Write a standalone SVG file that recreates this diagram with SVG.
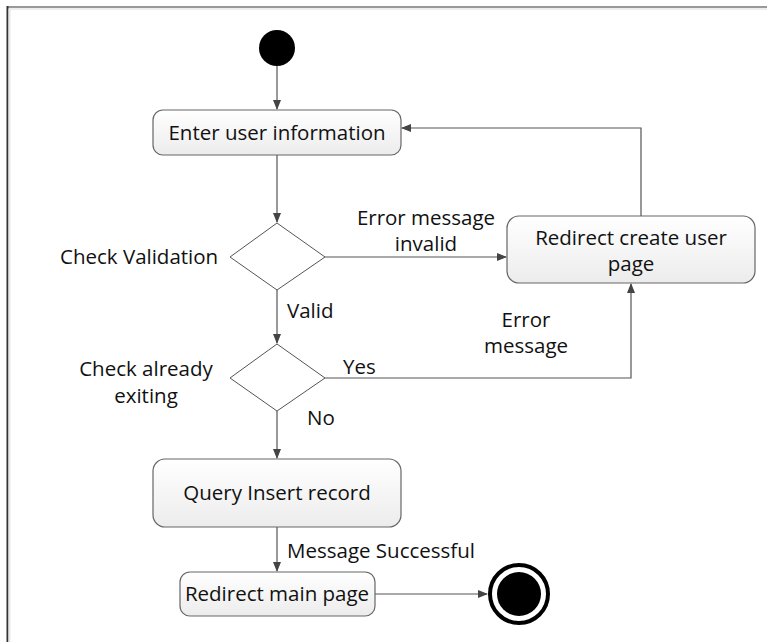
<svg xmlns="http://www.w3.org/2000/svg" width="767" height="642" viewBox="0 0 767 642">
<defs>
<linearGradient id="g" x1="0" y1="0" x2="0" y2="1"><stop offset="0" stop-color="#ffffff"/><stop offset="1" stop-color="#ececec"/></linearGradient>
<marker id="a" markerWidth="10" markerHeight="8" refX="9" refY="4" orient="auto" markerUnits="userSpaceOnUse"><path d="M0,0 L10,4 L0,8 Z" fill="#444"/></marker>
</defs>
<style>
.box{fill:url(#g);stroke:#666;stroke-width:1.2}
.dia{fill:#fff;stroke:#555;stroke-width:1}
.c{fill:none;stroke:#555;stroke-width:1.2}
text{font-family:"Open Sans","Noto Sans",sans-serif;font-size:20.5px;fill:#111}
.m{text-anchor:middle}
</style>
<rect x="0" y="0" width="767" height="642" fill="#fff"/>
<line x1="7" y1="7" x2="767" y2="7" stroke="#999" stroke-width="2"/>
<line x1="7.5" y1="6" x2="7.5" y2="642" stroke="#333" stroke-width="2"/>
<line x1="9" y1="9" x2="767" y2="9" stroke="#eee" stroke-width="2"/>
<line x1="9.5" y1="9" x2="9.5" y2="642" stroke="#e8e8e8" stroke-width="2"/>
<g id="connectors">
<line class="c" x1="277" y1="66" x2="277" y2="109" marker-end="url(#a)"/>
<line class="c" x1="277" y1="155" x2="277" y2="222" marker-end="url(#a)"/>
<line class="c" x1="325" y1="257" x2="506" y2="257" marker-end="url(#a)"/>
<polyline class="c" points="641,216 641,128 402,128" marker-end="url(#a)"/>
<line class="c" x1="277" y1="290" x2="277" y2="343" marker-end="url(#a)"/>
<polyline class="c" points="325,378 631,378 631,284" marker-end="url(#a)"/>
<line class="c" x1="277" y1="411" x2="277" y2="458" marker-end="url(#a)"/>
<line class="c" x1="277" y1="527" x2="277" y2="571" marker-end="url(#a)"/>
<line class="c" x1="375" y1="594" x2="487" y2="594" marker-end="url(#a)"/>
</g>
<g id="start"><circle cx="277" cy="48" r="18" fill="#000"/></g>
<g id="enter"><rect class="box" x="153" y="110" width="248" height="45" rx="10"/><text class="m" x="277" y="140">Enter user information</text></g>
<g id="checkValidation"><polygon class="dia" points="277,223 325,257 277,290 230,257"/><text x="60" y="264">Check Validation</text></g>
<g id="redirectCreate"><rect class="box" x="507" y="216" width="248" height="67" rx="12"/><text class="m" x="631" y="245">Redirect create user</text><text class="m" x="631" y="271">page</text></g>
<g id="checkExisting"><polygon class="dia" points="277,344 325,378 277,411 230,378"/><text class="m" x="146" y="376">Check already</text><text class="m" x="146" y="403">exiting</text></g>
<g id="query"><rect class="box" x="153" y="459" width="248" height="68" rx="12"/><text class="m" x="277" y="500">Query Insert record</text></g>
<g id="redirectMain"><rect class="box" x="180" y="572" width="195" height="44" rx="10"/><text class="m" x="277" y="601">Redirect main page</text></g>
<g id="end"><circle cx="519" cy="594" r="29" fill="#fff" stroke="#000" stroke-width="4"/><circle cx="519" cy="594" r="22" fill="#000"/></g>
<g id="labels">
<text class="m" x="426" y="225">Error message</text>
<text class="m" x="426" y="251">invalid</text>
<text x="287" y="318">Valid</text>
<text class="m" x="526" y="327">Error</text>
<text class="m" x="526" y="353">message</text>
<text x="343" y="374">Yes</text>
<text x="307" y="425">No</text>
<text x="287" y="558">Message Successful</text>
</g>
</svg>
